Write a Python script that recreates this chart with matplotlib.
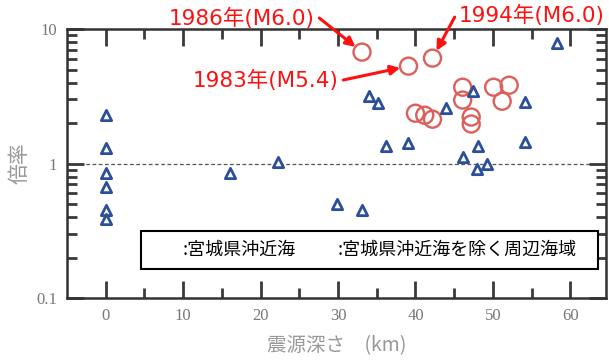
import matplotlib
matplotlib.use("Agg")
import matplotlib.pyplot as plt
from matplotlib.patches import Rectangle
from matplotlib.ticker import FixedLocator, NullFormatter

plt.rcParams['font.family'] = ['Noto Sans CJK JP', 'DejaVu Sans']

# --- datos: triangulos (azul) ---
tri_depth = [0, 0, 0, 0, 0, 0, 16.1, 22.3, 29.9, 33.1, 34.0, 35.2, 36.2, 39.0,
             44.0, 46.1, 47.4, 48.1, 48.0, 49.2, 54.2, 54.2, 58.3]
tri_ratio = [2.29, 1.30, 0.85, 0.67, 0.45, 0.39, 0.85, 1.03, 0.50, 0.45, 3.2, 2.8, 1.35, 1.42,
             2.58, 1.12, 3.46, 1.35, 0.91, 1.0, 2.87, 1.45, 7.87]

# --- datos: circulos (rojo) ---
cir_depth = [33.1, 39.1, 42.2, 46.1, 46.1, 40.0, 41.2, 42.2, 47.2, 47.2, 50.1, 51.2, 52.1]
cir_ratio = [6.75, 5.31, 6.09, 3.70, 2.97, 2.37, 2.29, 2.14, 2.22, 1.97, 3.70, 2.91, 3.83]

# anotaciones
notas = ["1986年(M6.0)", "1983年(M5.4)", "1994年(M6.0)"]
x_ticks = [0, 10, 20, 30, 40, 50, 60]
x_minor = [5, 15, 25, 35, 45, 55]
y_ticks = [0.1, 1, 10]
y_ticklabels = ["0.1", "1", "10"]
y_minor = [k * d for d in (0.1, 1) for k in range(2, 10)]

fig = plt.figure(figsize=(6.09, 3.6), dpi=100)
ax = fig.add_axes([0.110, 0.172, 0.885, 0.747])

ax.set_yscale('log')
ax.set_xlim(-5, 64.6)
ax.set_ylim(0.1, 10)

ax.axhline(1, color='#555555', lw=0.9, ls=(0, (3, 2)), zorder=1)

ax.scatter(cir_depth, cir_ratio, s=150, facecolors='none', edgecolors='#dd5f5a',
           linewidths=1.7, zorder=3)
ax.scatter(tri_depth, tri_ratio, s=55, marker='^', facecolors='white',
           edgecolors='#2b4f98', linewidths=2.0, zorder=4)

rojo = '#ff1010'
fuente_roja = ['DejaVu Sans', 'Noto Sans CJK JP']
flecha = dict(arrowstyle='-|>', color=rojo, lw=2.2, mutation_scale=14, shrinkA=0, shrinkB=6)
ax.annotate(notas[0], xy=(cir_depth[0], cir_ratio[0]), xycoords='data',
            xytext=(242, 342), textcoords='figure pixels', ha='center', va='center',
            color=rojo, fontsize=15.5, family=fuente_roja,
            arrowprops=dict(flecha, relpos=(1.03, 0.5)), annotation_clip=False)
ax.annotate(notas[1], xy=(cir_depth[1], cir_ratio[1]), xycoords='data',
            xytext=(266, 280), textcoords='figure pixels', ha='center', va='center',
            color=rojo, fontsize=15.5, family=fuente_roja,
            arrowprops=dict(flecha, relpos=(1.03, 0.5)), annotation_clip=False)
ax.annotate(notas[2], xy=(cir_depth[2], cir_ratio[2]), xycoords='data',
            xytext=(532, 345), textcoords='figure pixels', ha='center', va='center',
            color=rojo, fontsize=15.5, family=fuente_roja,
            arrowprops=dict(flecha, relpos=(-0.03, 0.4)), annotation_clip=False)

# leyenda (caja con texto)
ax.add_patch(Rectangle((0.137, 0.108), 0.848, 0.141, transform=ax.transAxes,
                       facecolor='white', edgecolor='black', lw=1.5, zorder=5))
ax.text(0.215, 0.178, ":宮城県沖近海", transform=ax.transAxes, va='center', ha='left',
        fontsize=13, color='black', zorder=6)
ax.text(0.503, 0.178, ":宮城県沖近海を除く周辺海域", transform=ax.transAxes, va='center',
        ha='left', fontsize=13, color='black', zorder=6)

# ejes y ticks
ax.xaxis.set_major_locator(FixedLocator(x_ticks))
ax.xaxis.set_minor_locator(FixedLocator(x_minor))
ax.yaxis.set_major_locator(FixedLocator(y_ticks))
ax.yaxis.set_minor_locator(FixedLocator(y_minor))
ax.set_yticklabels(y_ticklabels)
ax.yaxis.set_minor_formatter(NullFormatter())
ax.tick_params(which='both', direction='in', top=True, right=True, color='#3a3a3a',
               labelcolor='#777777', labelsize=12, width=2.0)
ax.tick_params(which='major', length=12, pad=7)
ax.tick_params(which='minor', length=7)
for lab in ax.get_xticklabels() + ax.get_yticklabels():
    lab.set_family('Liberation Serif')
for s in ax.spines.values():
    s.set_color('#333333')
    s.set_linewidth(1.8)

ax.set_xlabel("震源深さ　(km)", color='#999999', fontsize=14, labelpad=8)
ax.set_ylabel("倍率", color='#999999', fontsize=15, labelpad=4)

fig.savefig("out.png", dpi=100)
